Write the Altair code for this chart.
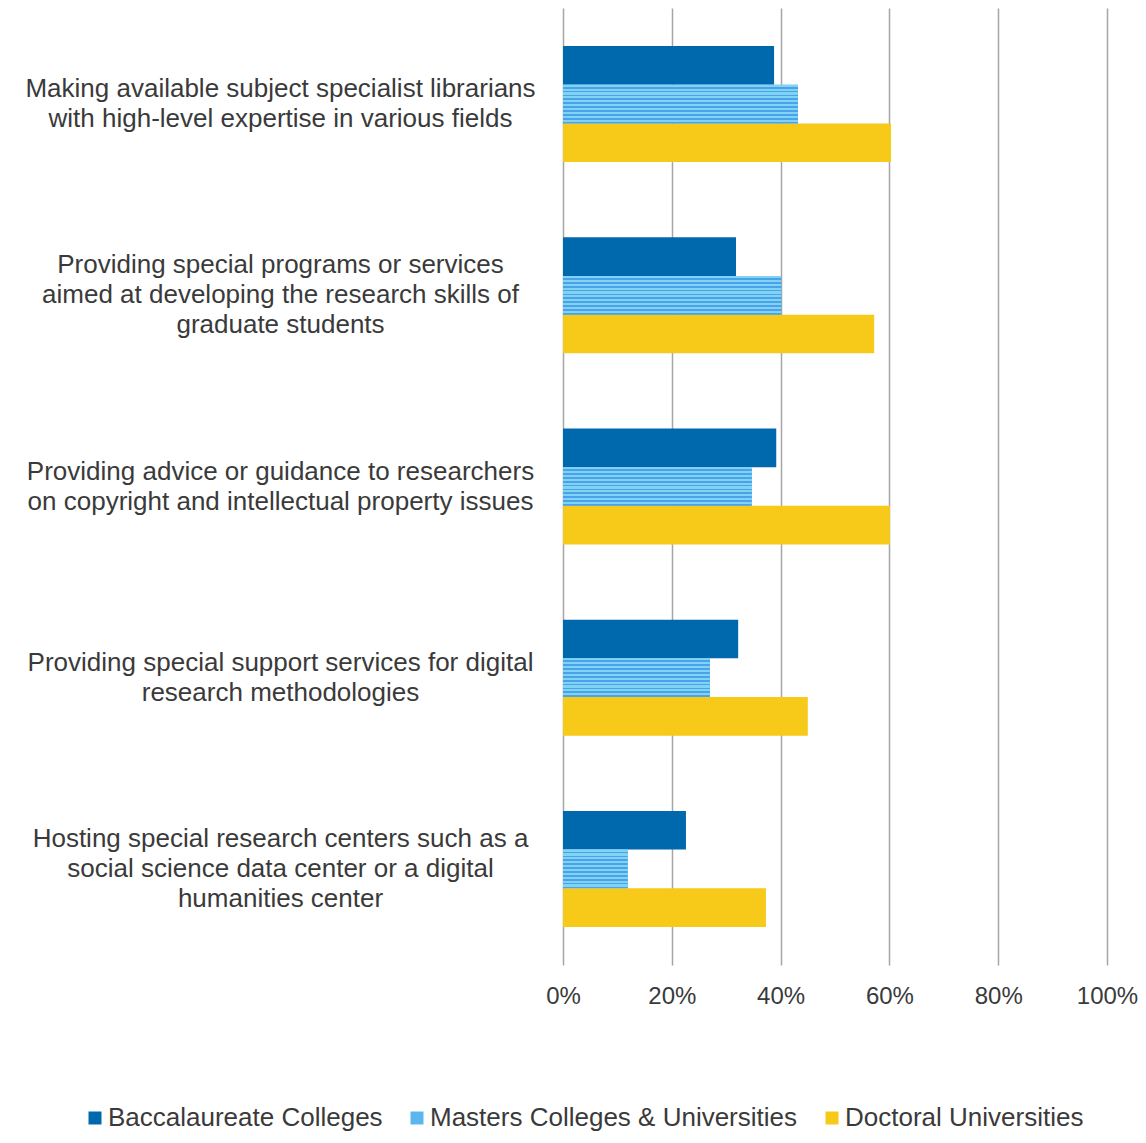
import altair as alt
import pandas as pd

categories = [
    "Making available subject specialist librarians|with high-level expertise in various fields",
    "Providing special programs or services|aimed at developing the research skills of|graduate students",
    "Providing advice or guidance to researchers|on copyright and intellectual property issues",
    "Providing special support services for digital|research methodologies",
    "Hosting special research centers such as a|social science data center or a digital|humanities center",
]
series = ["Baccalaureate Colleges", "Masters Colleges & Universities", "Doctoral Universities"]
bacc = [38.8, 31.8, 39.2, 32.2, 22.6]
masters = [43.2, 40.1, 34.7, 27.0, 11.9]
doctoral = [60.3, 57.2, 60.1, 45.0, 37.3]
colors = ["#0068ad", "#5cb6ee", "#f7c918"]
x_ticks = [0, 0.2, 0.4, 0.6, 0.8, 1.0]

rows = []
for i, c in enumerate(categories):
    for s, vals in zip(series, [bacc, masters, doctoral]):
        rows.append({"category": c, "series": s, "value": vals[i] / 100})
df = pd.DataFrame(rows)

FONT = "Liberation Sans"
TXT = "#3a3a3a"
FS = 26
LH = 30

# striped gradient approximating the dotted pattern fill
stops = []
n = 10
light, dark = "#80d3f3", "#4aa2ea"
for k in range(n):
    a = k / n
    b = (k + 0.55) / n
    e = (k + 1) / n
    stops += [
        {"offset": a, "color": light},
        {"offset": b, "color": light},
        {"offset": b, "color": dark},
        {"offset": e, "color": dark},
    ]
pattern = {"gradient": "linear", "x1": 0, "y1": 0, "x2": 0, "y2": 1, "stops": stops}

x_enc = alt.X(
    "value:Q",
    scale=alt.Scale(domain=[0, 1], nice=False),
    axis=alt.Axis(
        values=x_ticks, format=".0%", title=None, grid=True, gridColor="#a6a6a6",
        gridWidth=1.5, domain=False, ticks=False, tickSize=0, labelPadding=19,
        labelFlush=False, labelOverlap=False,
        labelFont=FONT, labelFontSize=24, labelColor=TXT,
    ),
)
y_enc = alt.Y(
    "category:N",
    sort=categories,
    scale=alt.Scale(domain=categories, paddingInner=0.393, paddingOuter=0.199),
    axis=alt.Axis(
        title=None, domain=False, ticks=False, tickSize=0, grid=False,
        labelAlign="center", labelBaseline="middle", labelPadding=283,
        labelLimit=700, labelLineHeight=LH,
        labelOffset={
            "condition": {"test": "length(split(datum.label, '|')) == 3", "value": -LH},
            "value": -LH / 2,
        },
        labelExpr="split(datum.label, '|')",
        labelFont=FONT, labelFontSize=FS, labelColor=TXT,
    ),
)
yoff_enc = alt.YOffset(
    "series:N", sort=series,
    scale=alt.Scale(domain=series, paddingInner=0, paddingOuter=0),
)

base = alt.Chart(df)

bars = base.mark_bar(strokeWidth=0).encode(
    x=x_enc,
    y=y_enc,
    yOffset=yoff_enc,
    color=alt.Color(
        "series:N",
        sort=series,
        scale=alt.Scale(domain=series, range=colors),
        legend=alt.Legend(
            title=None, orient="none", direction="horizontal", columns=3,
            legendX=-481, legendY=1097,
            symbolType="square", symbolSize=169, symbolStrokeWidth=0,
            labelFont=FONT, labelFontSize=FS, labelColor=TXT,
            labelOffset=0, columnPadding=21, labelLimit=600,
        ),
    ),
)

masters_layer = base.transform_filter(
    alt.datum.series == series[1]
).mark_bar(fill=pattern, strokeWidth=0).encode(
    x=x_enc,
    y=y_enc,
    yOffset=yoff_enc,
)

chart = alt.layer(bars, masters_layer).properties(
    width=544,
    height=957,
    autosize=alt.AutoSizeParams(type="none"),
    padding={"left": 555, "top": 0, "right": 31, "bottom": 170},
).configure_view(stroke=None)

chart.save("out.html", embed_options={"renderer": "svg", "actions": False})
